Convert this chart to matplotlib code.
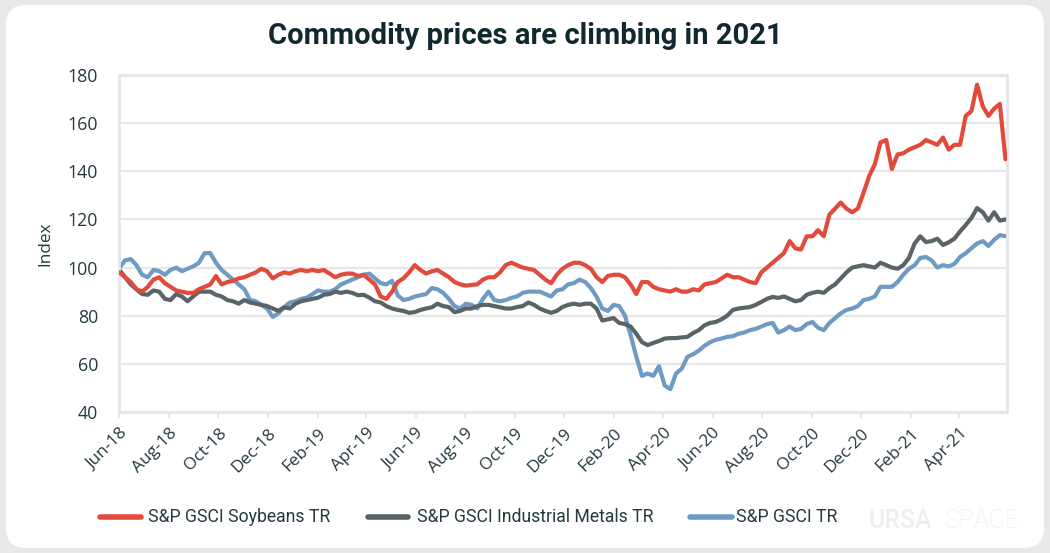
import matplotlib
matplotlib.use("Agg")
import matplotlib.pyplot as plt
import matplotlib.dates as mdates
from matplotlib.patches import FancyBboxPatch
from matplotlib.lines import Line2D
import pandas as pd

# ---------------- data (weekly) ----------------
start_date = "2018-06-01"

soybeans = [98, 96, 94, 91, 90, 92, 95, 96, 93.5, 92, 90.5, 90, 89.5, 89.5, 91, 92, 93, 96.5, 93, 94,
            94.5, 95.5, 96, 97, 98, 99.5, 98.5, 95.5, 97, 98, 97.5, 98.5, 99, 98.5, 99, 98.5, 99, 97.5, 96, 97,
            97.5, 97.5, 96.5, 97, 95, 93, 88, 87, 90, 94, 95.5, 98, 101, 99, 97.5, 98.5, 99, 97.5, 96, 94,
            93, 92.5, 92.8, 93, 95, 96, 96, 98, 101, 102, 101, 100, 99.5, 99, 97, 95, 93.5, 97, 99.5, 101,
            102, 102, 101, 99.5, 96, 94, 96.5, 97, 97, 96, 93, 89, 94, 94, 92, 91, 90.5, 90, 91, 90,
            90, 91, 90.5, 93, 93.5, 94, 95.5, 97, 96, 96, 95, 94, 93.5, 98, 100, 102, 104, 106, 111, 108,
            107.5, 113, 113, 115.5, 113, 122, 124.5, 127, 124.5, 123, 124.5, 131, 138, 143, 152, 153, 141, 147, 147.5, 149,
            150, 151, 153, 152, 151, 154, 149, 151, 151, 163, 165, 176, 167, 163, 166, 168, 145]

industrial_metals = [99, 96, 93, 91, 89, 88.7, 90.5, 90, 87, 86.5, 89, 88, 86, 88, 90, 90, 90, 88.7, 88, 86.5,
                     86, 85, 86.5, 85.5, 85, 84.5, 84, 83, 82, 83.5, 83, 85, 86, 86.5, 87, 87.5, 88.7, 89, 90, 89.5,
                     90, 89.5, 88.5, 88.7, 87.5, 86, 85.5, 84, 83, 82.4, 82, 81.2, 81.5, 82.4, 83, 83.5, 85, 84, 83.6, 81.5,
                     82, 83, 83, 84, 84.5, 84.5, 84, 83.5, 83, 83, 83.6, 84, 85.5, 84.5, 83, 82, 81.2, 82, 83.6, 84.5,
                     85, 84.5, 85, 85, 83, 78, 78.5, 79, 77, 76.5, 75.5, 72.5, 69, 67.8, 68.7, 69.5, 70.5, 70.7, 70.7, 71,
                     71.2, 72.8, 74, 76, 77, 77.4, 78.5, 80, 82.4, 83, 83.3, 83.6, 84.5, 85.7, 87, 87.8, 87.4, 88, 87, 86,
                     86.5, 88.7, 89.5, 90, 89.5, 91.5, 93, 95.5, 98, 100, 100.5, 101, 100.5, 100, 102, 101, 100, 99.5, 101, 104,
                     110, 113, 110.6, 111, 112, 109.4, 110.5, 112, 115, 117.7, 120.6, 124.7, 123, 119.5, 123, 119.5, 120]

gsci_total = [100, 103, 103.5, 101, 97, 96, 99, 98.5, 97, 99, 100, 98.5, 99.5, 100.5, 102, 106, 106, 102, 99, 97,
              95, 93, 91, 86.5, 86, 84.5, 83, 79.5, 81, 83.5, 85.5, 86, 87, 87.5, 89, 90.5, 90, 90, 91, 93,
              94, 95, 96, 97, 97.5, 95.5, 93.5, 93, 94.5, 88.5, 86.5, 87, 88, 88.5, 89, 91.5, 91, 89.5, 87, 84,
              83, 85, 84.5, 83, 87, 90, 86.5, 86, 86.5, 87.4, 88, 89.5, 90, 90, 90, 89, 88, 90.5, 91, 93,
              93.5, 95, 94, 91.5, 88, 83, 82, 84.5, 84, 80, 72, 63, 55, 56, 55, 59, 51, 49.5, 56, 58,
              62.9, 64, 65.5, 67.5, 69, 70, 70.5, 71.2, 71.5, 72.5, 73, 74, 74.5, 75.5, 76.5, 77, 73, 74, 75.5, 74,
              74.5, 76.5, 77.4, 75, 74, 77, 79, 81, 82.4, 83, 84, 86.5, 87, 88, 92, 92, 92, 94, 97, 99.5,
              101, 104, 104.4, 103, 100, 101, 100.5, 101.5, 104.4, 106, 108, 110, 111, 109, 111.5, 113.5, 113]

series_labels = ["S&P GSCI Soybeans TR", "S&P GSCI Industrial Metals TR", "S&P GSCI TR"]
y_ticks = [40, 60, 80, 100, 120, 140, 160, 180]
title_text = "Commodity prices are climbing in 2021"
y_label = "Index"

# ---------------- style ----------------
colors = ["#E24B3B", "#5A6468", "#6D9BC3"]
text_color = "#233A3F"
grid_color = "#E6E6E6"
W, H = 1050, 553

plt.rcParams["font.family"] = ["Open Sans", "DejaVu Sans"]

dates = pd.date_range(start_date, periods=len(soybeans), freq="7D")

fig = plt.figure(figsize=(W / 100, H / 100), dpi=100)
fig.patch.set_facecolor("#E8E8E8")
panel = FancyBboxPatch((0.06, 0.05), 10.38, 5.43,
                       boxstyle="round,pad=0,rounding_size=0.2",
                       transform=fig.dpi_scale_trans, facecolor="white",
                       edgecolor="none", zorder=-5)
fig.patches.append(panel)

ax = fig.add_axes([119 / W, 1 - 412 / H, (1006.7 - 119) / W, (412 - 75) / H])
ax.set_facecolor("white")

series = [soybeans, industrial_metals, gsci_total]
for vals, c, lab, z in zip(series, colors, series_labels, [3, 2, 1]):
    ax.plot(dates, vals, color=c, lw=3.0, label=lab, zorder=z,
            solid_joinstyle="round", solid_capstyle="round")

ax.set_ylim(40, 180)
ax.set_yticks(y_ticks)
ax.set_xlim(dates[0] - pd.Timedelta(days=0.5), dates[-1] + pd.Timedelta(days=1.5))
ax.xaxis.set_major_locator(mdates.MonthLocator(bymonth=[2, 4, 6, 8, 10, 12]))
ax.xaxis.set_major_formatter(mdates.DateFormatter("%b-%y"))

ax.grid(axis="y", color=grid_color, lw=1.5, zorder=0)
ax.set_axisbelow(True)
for s in ax.spines.values():
    s.set_color(grid_color)
    s.set_linewidth(2)
ax.tick_params(axis="y", length=0, pad=15, labelsize=12.8, labelcolor=text_color)
ax.tick_params(axis="x", length=4.5, width=1.5, color=grid_color, pad=5,
               labelsize=12.3, labelcolor=text_color)
for lbl in ax.get_xticklabels():
    lbl.set_rotation(45)
    lbl.set_ha("right")
    lbl.set_va("top")
    lbl.set_rotation_mode("anchor")

ax.set_ylabel(y_label, fontsize=12.3, color=text_color, labelpad=10)

fig.text(525 / W, 1 - 36 / H, title_text, ha="center", va="center",
         fontsize=21, fontweight="bold", color="#10292E", family=["Roboto", "DejaVu Sans"])

# legend, drawn manually in figure pixels
leg_y = 1 - 517 / H
leg_items = [(100, 141, 148), (368, 408, 417), (690, 732, 736)]
for (x0, x1, xt), c, lab in zip(leg_items, colors, series_labels):
    fig.add_artist(Line2D([x0 / W, x1 / W], [leg_y, leg_y], color=c, lw=4,
                          solid_capstyle="round", transform=fig.transFigure))
    fig.text(xt / W, leg_y, lab, ha="left", va="center", fontsize=12.7,
             color=text_color, family=["Roboto", "DejaVu Sans"])

# watermark
fig.text(868 / W, 1 - 521 / H, "URSA", ha="left", va="center", fontsize=18,
         color="#EEEEEE", fontweight="medium", family=["Roboto", "DejaVu Sans"])
fig.text(945 / W, 1 - 521 / H, "SPACE", ha="left", va="center", fontsize=18,
         color="#EEEEEE", fontweight="light", family=["Roboto", "DejaVu Sans"])

fig.savefig("out.png", dpi=100, facecolor=fig.get_facecolor())
